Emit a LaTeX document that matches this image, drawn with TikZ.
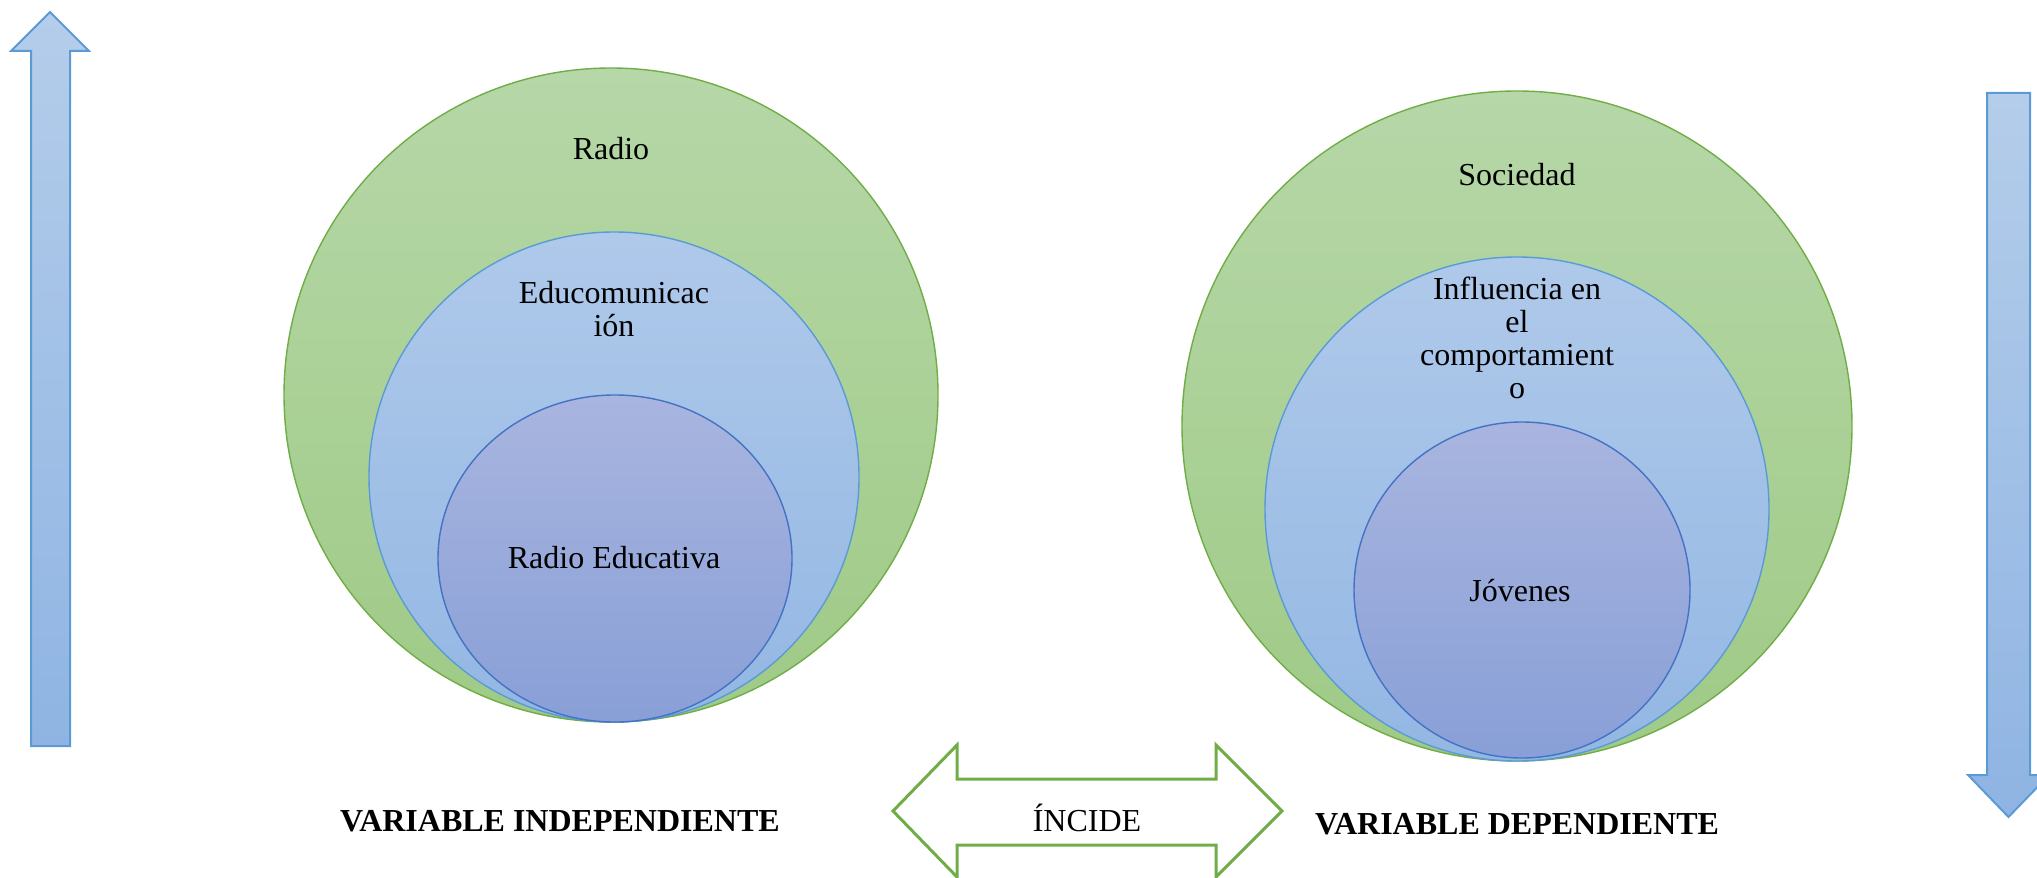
\documentclass[tikz,border=0pt]{standalone}
\usepackage{fontspec}
\setmainfont{Liberation Serif}
\begin{document}
\begin{tikzpicture}[x=0.5pt,y=0.5pt,
  greenc/.style={top color=gTop,bottom color=gBot,draw=gLine,line width=0.7pt},
  bluec/.style={top color=bTop,bottom color=bBot,draw=bLine,line width=0.7pt},
  innerc/.style={top color=iTop,bottom color=iBot,draw=iLine,line width=0.7pt},
  vArrow/.style={top color=aTop,bottom color=aBot,draw=bLine,line width=1pt,line join=miter},
  dArrow/.style={fill=white,draw=gLine,line width=1.5pt,line join=miter},
  txt/.style={font=\fontsize{16}{16.5}\selectfont,align=center,inner sep=0pt},
  lbl/.style={font=\fontsize{16}{18}\selectfont\bfseries,inner sep=0pt}]
\definecolor{gTop}{HTML}{B6D7A8}
\definecolor{gBot}{HTML}{9FCA86}
\definecolor{gLine}{HTML}{70AD47}
\definecolor{bTop}{HTML}{AFC9EA}
\definecolor{bBot}{HTML}{93B7E3}
\definecolor{bLine}{HTML}{5B9BD5}
\definecolor{iTop}{HTML}{A9B5DF}
\definecolor{iBot}{HTML}{889FD7}
\definecolor{iLine}{HTML}{4472C4}
\definecolor{aTop}{HTML}{B4CDEA}
\definecolor{aBot}{HTML}{8FB4E3}
\useasboundingbox (0,0) rectangle (2037,-877);
% left group
\path[greenc] (611,-395) circle [radius=327];
\path[bluec] (614,-477) circle [radius=245];
\path[innerc] (615,-558.5) ellipse [x radius=177, y radius=163.5];
% right group
\path[greenc] (1517,-426) circle [radius=335];
\path[bluec] (1517,-509) circle [radius=252];
\path[innerc] (1522,-590) circle [radius=168];
% texts
\node[txt] (radio) at (611,-149) {Radio};
\node[txt] (educ) at (614,-309) {Educomunicac\\ión};
\node[txt] (radioed) at (614,-558) {Radio Educativa};
\node[txt] (soc) at (1517,-175) {Sociedad};
\node[txt] (infl) at (1517,-338) {Influencia en\\el\\comportamient\\o};
\node[txt] (jov) at (1520,-591) {Jóvenes};
% arrows
\path[vArrow] (31,-746) -- (31,-51) -- (11,-51) -- (50,-12) -- (89,-51) -- (70,-51) -- (70,-746) -- cycle;
\path[vArrow] (1987,-93) -- (2030,-93) -- (2030,-775) -- (2049,-775) -- (2008.5,-817) -- (1968,-775) -- (1987,-775) -- cycle;
\path[dArrow] (893,-811) -- (957,-745) -- (957,-779) -- (1216,-779) -- (1216,-745) -- (1282,-811) -- (1216,-877) -- (1216,-845) -- (957,-845) -- (957,-877) -- cycle;
\node[txt] (incide) at (1087,-818) {ÍNCIDE};
\node[lbl] (vi) at (560,-821) {VARIABLE INDEPENDIENTE};
\node[lbl] (vd) at (1517,-824) {VARIABLE DEPENDIENTE};
\end{tikzpicture}
\end{document}
